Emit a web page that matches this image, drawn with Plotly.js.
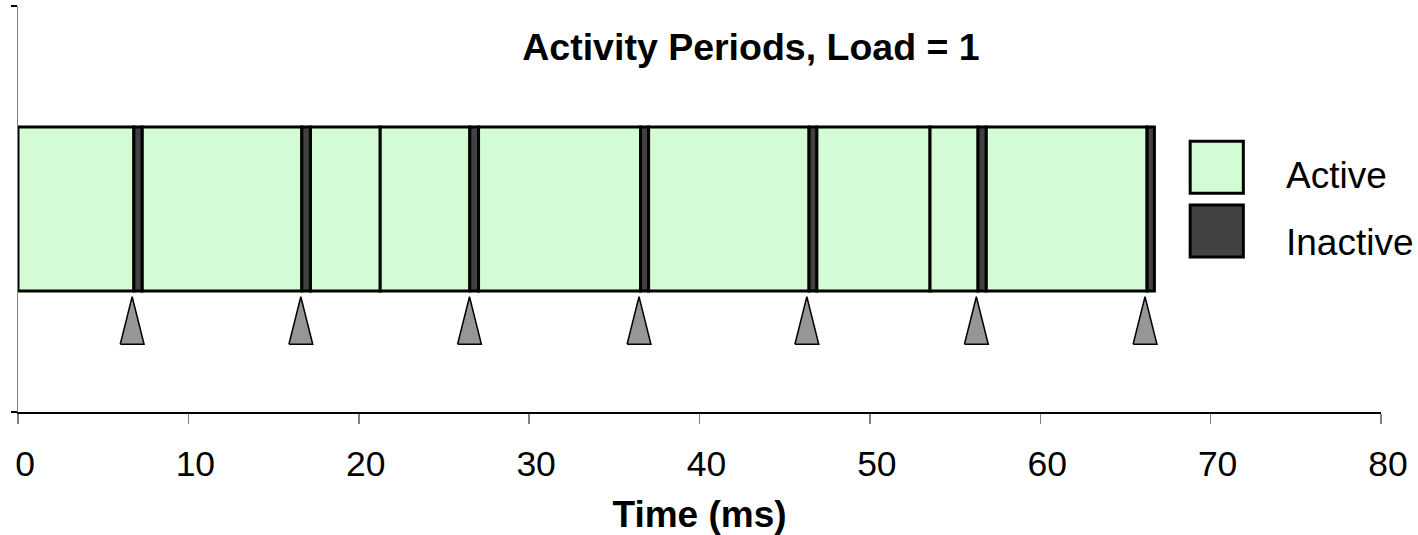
<!DOCTYPE html>
<html>
<head>
<meta charset="utf-8">
<script src="https://cdn.plot.ly/plotly-3.0.1.min.js"></script>
<style>
  html, body { margin: 0; padding: 0; background: #ffffff; }
  #chart { width: 1418px; height: 535px; }
</style>
</head>
<body>
<div id="chart"></div>
<script>
// ---- data (ms) ----
var activeStart   = [0, 7.28, 17.16, 21.26, 27.03, 37.01, 46.88, 53.53, 56.82];
var activeEnd     = [6.80, 16.66, 21.26, 26.52, 36.54, 46.43, 53.53, 56.35, 66.27];
var inactiveStart = [6.80, 16.66, 26.52, 36.54, 46.43, 56.35, 66.27];
var inactiveEnd   = [7.28, 17.16, 27.03, 37.01, 46.88, 56.82, 66.70];
var arrivals      = [6.7, 16.6, 26.5, 36.45, 46.3, 56.25, 66.15];
var xTicks        = [0, 10, 20, 30, 40, 50, 60, 70, 80];
var seriesNames   = ['Active', 'Inactive'];

// ---- style ----
var FONT = '"Liberation Sans", Arial, sans-serif';
var activeColor = '#d4fcd4';
var inactiveColor = '#424242';
var barY = 0.5, barW = 0.404;
var triApex = 0.284, triBase = 0.167, triHalf = 0.7;

function diff(a, b) { return b.map(function (v, i) { return v - a[i]; }); }
function fill(n, v) { var r = []; for (var i = 0; i < n; i++) r.push(v); return r; }

var traces = [
  {
    type: 'bar', orientation: 'h', name: seriesNames[0],
    base: activeStart, x: diff(activeStart, activeEnd),
    y: fill(activeStart.length, barY), width: barW,
    marker: { color: activeColor, line: { color: '#000000', width: 3 } },
    hoverinfo: 'skip', showlegend: false
  },
  {
    type: 'bar', orientation: 'h', name: seriesNames[1],
    base: inactiveStart, x: diff(inactiveStart, inactiveEnd),
    y: fill(inactiveStart.length, barY), width: barW,
    marker: { color: inactiveColor, line: { color: '#000000', width: 3 } },
    hoverinfo: 'skip', showlegend: false
  }
];

// arrival triangles built from the arrival times
var tx = [], ty = [];
arrivals.forEach(function (t) {
  tx.push(t - triHalf, t, t + triHalf, t - triHalf, null);
  ty.push(triBase, triApex, triBase, triBase, null);
});
traces.push({
  type: 'scatter', mode: 'lines', x: tx, y: ty, fill: 'toself',
  fillcolor: '#969696', line: { color: '#000000', width: 1.5 },
  hoverinfo: 'skip', showlegend: false
});

// custom legend (large swatches as in the reference)
var shapes = [
  { type: 'rect', xref: 'paper', yref: 'paper', x0: 0.860, x1: 0.899, y0: 0.539, y1: 0.667,
    fillcolor: activeColor, line: { color: '#000000', width: 3 } },
  { type: 'rect', xref: 'paper', yref: 'paper', x0: 0.860, x1: 0.899, y0: 0.382, y1: 0.510,
    fillcolor: inactiveColor, line: { color: '#000000', width: 3 } }
];
var annotations = [
  { xref: 'paper', yref: 'paper', x: 0.9285, y: 0.582, xanchor: 'left', yanchor: 'middle',
    text: seriesNames[0], showarrow: false, font: { family: FONT, size: 37, color: '#000' } },
  { xref: 'paper', yref: 'paper', x: 0.9285, y: 0.417, xanchor: 'left', yanchor: 'middle',
    text: seriesNames[1], showarrow: false, font: { family: FONT, size: 37, color: '#000' } }
];

var layout = {
  width: 1418, height: 535,
  margin: { l: 18, r: 37, t: 6, b: 123, pad: 0 },
  paper_bgcolor: '#ffffff', plot_bgcolor: '#ffffff',
  font: { family: FONT, color: '#000000' },
  title: {
    text: '<b>Activity Periods, Load = 1</b>',
    font: { family: FONT, size: 37.5, color: '#000' },
    x: 751 / 1418, xanchor: 'center', xref: 'container',
    y: 1 - 47 / 535, yanchor: 'middle', yref: 'container'
  },
  barmode: 'overlay',
  showlegend: false,
  hovermode: false,
  xaxis: {
    range: [0, 80], tickvals: xTicks, ticktext: xTicks.map(String),
    ticks: 'outside', ticklen: 10, tickwidth: 1.5, tickcolor: '#808080',
    showline: true, linecolor: '#000000', linewidth: 1.5,
    showgrid: false, zeroline: false,
    tickfont: { family: FONT, size: 35.5, color: '#000' },
    ticklabelshift: 7, ticklabelstandoff: 10,
    title: { text: '<b>Time (ms)</b>', font: { family: FONT, size: 37, color: '#000' }, standoff: 18 },
    fixedrange: true
  },
  yaxis: {
    range: [0, 1], tickvals: [0, 1], showticklabels: false,
    ticks: 'outside', ticklen: 6, tickwidth: 1.5, tickcolor: '#000000',
    showline: true, linecolor: '#808080', linewidth: 1.5,
    showgrid: false, zeroline: false, fixedrange: true
  },
  shapes: shapes,
  annotations: annotations
};

Plotly.newPlot('chart', traces, layout, { displayModeBar: false, staticPlot: true });
</script>
</body>
</html>
